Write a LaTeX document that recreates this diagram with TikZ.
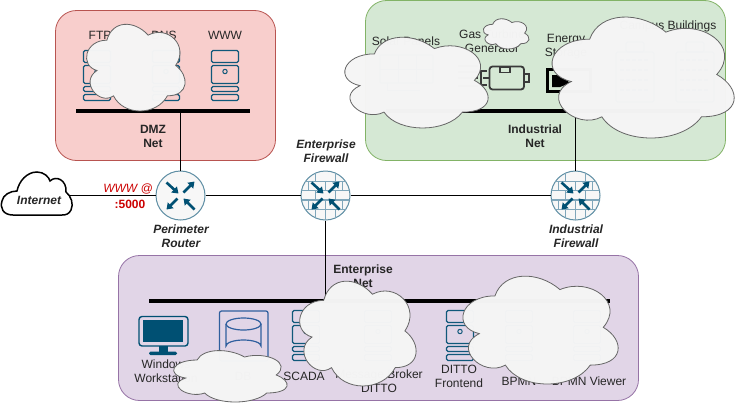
\documentclass[tikz,border=0pt]{standalone}
\usepackage{fontspec}
\setmainfont{Liberation Sans}
\usetikzlibrary{arrows.meta}
\definecolor{icon}{HTML}{10587A}
\definecolor{dark}{HTML}{005073}
\definecolor{brick}{HTML}{7FA6BA}
\definecolor{ringc}{HTML}{5E8EA4}
\definecolor{motor}{HTML}{3A3A3A}
\definecolor{dbblue}{HTML}{2F5F9E}
\definecolor{wred}{HTML}{CC0000}
\newcommand{\cloudbox}[5]{%
  \pgfmathsetmacro\cw{(#3-#1)/0.9}%
  \pgfmathsetmacro\ch{(#4-#2)/0.85}%
  \pgfmathsetmacro\cx{#1-0.06*\cw}%
  \pgfmathsetmacro\cy{#2-0.1*\ch}%
  \begin{scope}[x=\cw pt,y=-\ch pt,xshift=\cx pt,yshift=-\cy pt]
    \path[#5] (.25,.25) .. controls (.05,.25) and (0,.5) .. (.16,.55)
      .. controls (0,.66) and (.18,.9) .. (.31,.8)
      .. controls (.4,1) and (.7,1) .. (.8,.8)
      .. controls (1,.8) and (1,.6) .. (.875,.5)
      .. controls (1,.3) and (.8,.1) .. (.625,.2)
      .. controls (.5,.05) and (.3,.05) .. (.25,.25) -- cycle;
  \end{scope}}
\newcommand{\arrowset}[1]{%
  \begin{scope}[shift={(#1)}]
    \draw[netarrow] (-14,-13) -- (-2,-2);
    \draw[netarrow] (3,-3) -- (14,-14);
    \draw[netarrow] (-3,3) -- (-14,14);
    \draw[netarrow] (14,14) -- (3,3);
  \end{scope}}
\newcommand{\bricks}[1]{%
  \begin{scope}[shift={(#1)}]
    \clip (0,0) circle (24.5);
    \draw[brickline] (-25,-14) -- (25,-14) (-25,-5) -- (25,-5) (-25,4.5) -- (25,4.5) (-25,14) -- (25,14);
    \draw[brickline] (-10,-25) -- (-10,-14) (10,-25) -- (10,-14)
      (-17,-14) -- (-17,-5) (0,-14) -- (0,-5) (17,-14) -- (17,-5)
      (-10,-5) -- (-10,4.5) (10,-5) -- (10,4.5)
      (-17,4.5) -- (-17,14) (0,4.5) -- (0,14) (17,4.5) -- (17,14)
      (-10,14) -- (-10,25) (10,14) -- (10,25) (0,14) -- (0,25);
  \end{scope}}
\tikzset{
  x=1pt,y=-1pt,
  lbl/.style={font=\fontsize{12}{14.4}\selectfont,align=center,text=black!85,inner sep=0pt},
  blbl/.style={lbl,font=\fontsize{12}{14.4}\selectfont\bfseries},
  bilbl/.style={lbl,font=\fontsize{12}{14.4}\selectfont\bfseries\itshape},
  area/.style={line width=0.8pt,rounded corners=21pt},
  wire/.style={line width=1pt,draw=black},
  bus/.style={line width=4pt,draw=black},
  netnode/.style={circle,minimum size=49pt,inner sep=0pt,draw=ringc,line width=1pt,fill=white!97!black},
  netarrow/.style={line width=2.6pt,draw=dark,-{Triangle[length=6pt,width=8pt]}},
  brickline/.style={line width=1.5pt,draw=brick},
  redact/.style={fill=black!4,fill opacity=0.985,draw=black!60,line width=0.8pt},
  iconline/.style={line width=1.2pt,draw=icon,rounded corners=1.5pt},
  serverpic/.pic={
    \draw[iconline] (0,0) rectangle (27,12);
    \draw[iconline] (0,15) rectangle (27,33);
    \draw[iconline] (0,36) rectangle (27,41);
    \draw[iconline] (0,44) rectangle (27,50);
    \draw[line width=1pt,draw=icon] (13.5,21) circle (2.2);
  },
  buildingpic/.pic={
    \draw[iconline] (0,10) rectangle (38,60);
    \draw[iconline] (10,0) rectangle (28,10);
    \foreach \yy in {18,28,38,48}{\draw[line width=2pt,draw=icon,dash pattern=on 4pt off 2pt] (4,\yy) -- (34,\yy);}
  }
}
\begin{document}
\begin{tikzpicture}
\useasboundingbox (0,0) rectangle (743,407);
\fill[white] (0,0) rectangle (743,407);
% areas
\draw[area,fill={rgb,255:red,248;green,206;blue,204},draw={rgb,255:red,184;green,84;blue,80}] (55.5,10.5) rectangle (275.5,160.5);
\draw[area,fill={rgb,255:red,213;green,232;blue,212},draw={rgb,255:red,130;green,179;blue,102}] (365.5,0.5) rectangle (725.5,160.5);
\draw[area,fill={rgb,255:red,225;green,213;blue,231},draw={rgb,255:red,150;green,115;blue,166}] (118.5,255.5) rectangle (638.5,400.5);
% network nodes
\node[netnode] (router) at (180.5,195.5) {};
\node[netnode] (entfw) at (325.5,195.5) {};
\node[netnode] (indfw) at (575.5,195.5) {};
\coordinate (inetE) at (70,195.5);
\coordinate (dmzL) at (76,110.5);
\coordinate (dmzR) at (250,110.5);
\coordinate (dmzT) at (180.5,110.5);
\coordinate (indL) at (386,110.5);
\coordinate (indR) at (700,110.5);
\coordinate (indT) at (575.5,110.5);
\coordinate (entL) at (149,300.5);
\coordinate (entR) at (610,300.5);
\coordinate (entT) at (325.5,300.5);
% connectors
\draw[wire] (inetE) -- (router.west);
\draw[wire] (router.east) -- (entfw.west);
\draw[wire] (entfw.east) -- (indfw.west);
\draw[wire] (router.north) -- (dmzT);
\draw[wire] (indfw.north) -- (indT);
\draw[wire] (entfw.south) -- (entT);
\draw[bus] (dmzL) -- (dmzR);
\draw[bus] (indL) -- (indR);
\draw[bus] (entL) -- (entR);
% node glyphs
\bricks{entfw}
\bricks{indfw}
\arrowset{router}
\arrowset{entfw}
\arrowset{indfw}
% internet
\draw[fill=white,draw=black,line width=1.5pt] (13,215) .. controls (3,215) and (0,208) .. (2,201)
  .. controls (3,195) and (10,191) .. (17,191)
  .. controls (19,181) and (27,172) .. (37,172)
  .. controls (44,172) and (49,177) .. (50,181)
  .. controls (56,175) and (67,180) .. (66,192)
  .. controls (71,196) and (74,204) .. (71,210)
  .. controls (69,214) and (66,215) .. (62,215) -- cycle;
\node[bilbl] (inet) at (39,200.5) {Internet};
% DMZ servers
\pic at (83.5,50.5) {serverpic};
\pic at (152.5,50.5) {serverpic};
\pic at (211.5,50.5) {serverpic};
% enterprise servers
\pic at (292.5,310.5) {serverpic};
\pic at (364.5,310.5) {serverpic};
\pic at (446.5,310.5) {serverpic};
\pic at (505.5,310.5) {serverpic};
\pic at (573.5,310.5) {serverpic};
% workstation
\draw[line width=1.4pt,draw=dark,rounded corners=3pt] (139,316.5) rectangle (188,346);
\fill[dark] (143,320) rectangle (183,342);
\fill[dark] (159,346) rectangle (168,352);
\fill[dark,rounded corners=1.5pt] (149,351.5) rectangle (177,355);
% DB
\draw[line width=1.2pt,draw=dbblue,rounded corners=2pt] (219.5,311) rectangle (268,361);
\draw[line width=1.2pt,draw=dbblue] (226,324) arc[start angle=180,end angle=-180,x radius=17.5,y radius=6];
\draw[line width=1.2pt,draw=dbblue] (226,324) -- (226,346) arc[start angle=180,end angle=360,x radius=17.5,y radius=6] -- (261,324);
% solar
\draw[line width=1.2pt,draw=icon,rounded corners=1pt] (380,55) rectangle (433,83);
\draw[line width=1pt,draw=icon] (398,55) -- (398,83) (416,55) -- (416,83) (380,69) -- (433,69);
\draw[line width=1pt,draw=icon] (387,83) -- (387,90) -- (420,90);
% turbine + generator
\draw[line width=1.5pt,draw=motor] (458,66) -- (478,66) (458,72) -- (478,72) (458,78) -- (478,78) (458,86) -- (478,86);
\draw[line width=1.8pt,draw=motor,rounded corners=3pt] (489.5,66.5) rectangle (524,89.5);
\draw[line width=1.4pt,draw=motor] (500,67) rectangle (510,72.5);
\draw[line width=1.8pt,draw=motor] (524,74) rectangle (529,82);
\draw[line width=1.8pt,draw=motor] (489,78) -- (483,78);
\draw[line width=1.8pt,draw=motor] (487,71) -- (481,71) -- (481,85) -- (487,85);
% storage
\draw[line width=3pt,draw=black] (547.5,69.5) rectangle (590,91.5);
\fill[black] (552,75) -- (560,75) -- (570,83) -- (560,87) -- (552,87) -- cycle;
% buildings
\pic at (616,42) {buildingpic};
\pic at (676,42) {buildingpic};
% labels
\node[lbl] (lftp) at (100,35.5) {FTP};
\node[lbl] (ldns) at (164,35.5) {DNS};
\node[lbl] (lwww) at (225,35.5) {WWW};
\node[blbl] (ldmz) at (153,136.5) {DMZ\\Net};
\node[bilbl] (lef) at (326,151) {Enterprise\\Firewall};
\node[bilbl] (lpr) at (181,236.5) {Perimeter\\Router};
\node[bilbl] (lif) at (576,236.5) {Industrial\\Firewall};
\node[lbl,text=wred,font=\fontsize{12}{14.4}\selectfont\itshape] (lwww2) at (128,188.5) {WWW @};
\node[lbl,text=wred,font=\fontsize{12}{14.4}\selectfont\bfseries] (l5000) at (130,204) {:5000};
\node[lbl] (lsol) at (406,41) {Solar Panels};
\node[lbl] (lgas) at (492,41) {Gas Turbine\\Generator};
\node[lbl] (lene) at (566,46.5) {Energy\\Storage};
\node[lbl] (lcam) at (668,26) {Campus Buildings};
\node[blbl] (lind) at (535,136.5) {Industrial\\Net};
\node[blbl] (lent) at (363,276.5) {Enterprise\\Net};
\node[lbl] (lwin) at (166,371.5) {Windows\\Workstation};
\node[lbl] (ldb) at (243,376) {DB};
\node[lbl] (lsca) at (304,376) {SCADA};
\node[lbl] (lmsg) at (379,381.5) {Message Broker\\DITTO};
\node[lbl] (ldit) at (459,376.5) {DITTO\\Frontend};
\node[lbl] (lbpm) at (519,381) {BPMN};
\node[lbl] (lbpv) at (589,381) {BPMN Viewer};
% redaction clouds
\cloudbox{86}{25}{185}{111}{redact}
\cloudbox{344}{38}{488}{128}{redact}
\cloudbox{483}{19}{529}{49}{redact}
\cloudbox{551}{18}{734}{138}{redact}
\cloudbox{173}{351}{287}{402}{redact}
\cloudbox{299}{282}{416}{386}{redact}
\cloudbox{462}{277}{618}{384}{redact}
\end{tikzpicture}
\end{document}
